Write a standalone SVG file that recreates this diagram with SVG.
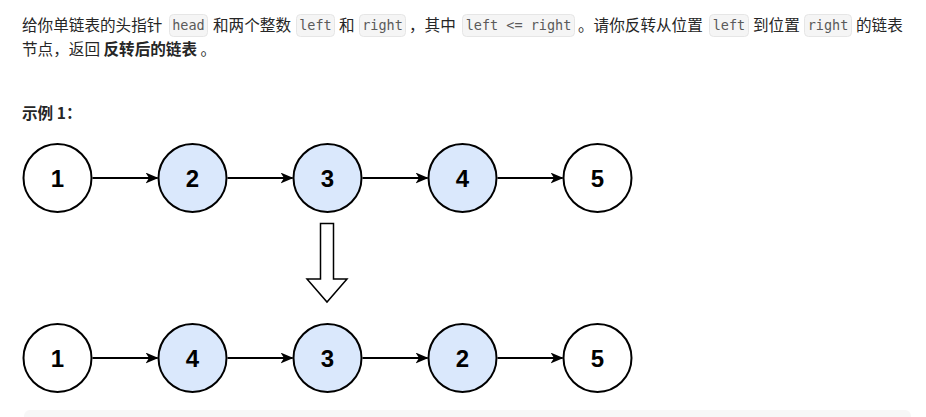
<svg xmlns="http://www.w3.org/2000/svg" width="926" height="417" viewBox="0 0 926 417">
<defs>
<style>
.t{font-family:"Noto Sans CJK SC","Noto Sans",sans-serif;font-size:15.6px;fill:#262626}
.b{font-weight:bold}
.code{font-family:"DejaVu Sans Mono","Liberation Mono",monospace;font-size:13.5px;fill:#5a5a5a;text-anchor:middle}
.cb{fill:#f5f5f5;stroke:#e6e6e6;stroke-width:1}
.n{stroke:#000;stroke-width:2}
.w{fill:#fff}
.h{fill:#dae8fc}
.lbl{font-family:"Liberation Sans",Arial,sans-serif;font-weight:bold;font-size:24px;fill:#000;text-anchor:middle}
.e{stroke:#000;stroke-width:2;fill:none}
</style>
<marker id="ah" markerWidth="13" markerHeight="11" refX="12" refY="5.5" orient="auto" markerUnits="userSpaceOnUse">
<path d="M0,0 L13,5.5 L0,11 L3.5,5.5 Z" fill="#000"/>
</marker>
</defs>
<rect width="926" height="417" fill="#fff"/>
<!-- text line 1 -->
<rect class="cb" x="169.5" y="14.5" width="38" height="22" rx="4"/>
<rect class="cb" x="296.5" y="14.5" width="38" height="22" rx="4"/>
<rect class="cb" x="359.5" y="14.5" width="46" height="22" rx="4"/>
<rect class="cb" x="462.5" y="14.5" width="112" height="22" rx="4"/>
<rect class="cb" x="709.5" y="14.5" width="39" height="22" rx="4"/>
<rect class="cb" x="804.5" y="14.5" width="47" height="22" rx="4"/>
<text class="t" x="22" y="31">给你单链表的头指针</text>
<text class="code" x="188.5" y="30">head</text>
<text class="t" x="213" y="31">和两个整数</text>
<text class="code" x="315.5" y="30">left</text>
<text class="t" x="339" y="31">和</text>
<text class="code" x="382.5" y="30">right</text>
<text class="t" x="409" y="31">，其中</text>
<text class="code" x="518.5" y="30">left &lt;= right</text>
<text class="t" x="578" y="31">。请你反转从位置</text>
<text class="code" x="729" y="30">left</text>
<text class="t" x="753" y="31">到位置</text>
<text class="code" x="828" y="30">right</text>
<text class="t" x="856" y="31">的链表</text>
<text class="t" x="22" y="55">节点，返回 <tspan class="b">反转后的链表</tspan> 。</text>
<text class="t b" x="22" y="119">示例 1：</text>
<!-- connectors -->
<g id="connectors">
<line class="e" x1="92.5" y1="178" x2="157.5" y2="178" marker-end="url(#ah)"/>
<line class="e" x1="227.5" y1="178" x2="292.5" y2="178" marker-end="url(#ah)"/>
<line class="e" x1="362.5" y1="178" x2="427.5" y2="178" marker-end="url(#ah)"/>
<line class="e" x1="497.5" y1="178" x2="562.5" y2="178" marker-end="url(#ah)"/>
<line class="e" x1="92.5" y1="358" x2="157.5" y2="358" marker-end="url(#ah)"/>
<line class="e" x1="227.5" y1="358" x2="292.5" y2="358" marker-end="url(#ah)"/>
<line class="e" x1="362.5" y1="358" x2="427.5" y2="358" marker-end="url(#ah)"/>
<line class="e" x1="497.5" y1="358" x2="562.5" y2="358" marker-end="url(#ah)"/>
<path id="down-arrow" d="M320.5,223.5 L333.5,223.5 L333.5,279 L347,279 L327,302 L307,279 L320.5,279 Z" fill="#fff" stroke="#000" stroke-width="1.5" stroke-linejoin="miter"/>
</g>
<!-- top row -->
<g id="t1"><circle class="n w" cx="57.5" cy="178" r="34"/><text class="lbl" x="57.5" y="186.5">1</text></g>
<g id="t2"><circle class="n h" cx="192.5" cy="178" r="34"/><text class="lbl" x="192.5" y="186.5">2</text></g>
<g id="t3"><circle class="n h" cx="327.5" cy="178" r="34"/><text class="lbl" x="327.5" y="186.5">3</text></g>
<g id="t4"><circle class="n h" cx="462.5" cy="178" r="34"/><text class="lbl" x="462.5" y="186.5">4</text></g>
<g id="t5"><circle class="n w" cx="597.5" cy="178" r="34"/><text class="lbl" x="597.5" y="186.5">5</text></g>
<!-- bottom row -->
<g id="b1"><circle class="n w" cx="57.5" cy="358" r="34"/><text class="lbl" x="57.5" y="366.5">1</text></g>
<g id="b4"><circle class="n h" cx="192.5" cy="358" r="34"/><text class="lbl" x="192.5" y="366.5">4</text></g>
<g id="b3"><circle class="n h" cx="327.5" cy="358" r="34"/><text class="lbl" x="327.5" y="366.5">3</text></g>
<g id="b2"><circle class="n h" cx="462.5" cy="358" r="34"/><text class="lbl" x="462.5" y="366.5">2</text></g>
<g id="b5"><circle class="n w" cx="597.5" cy="358" r="34"/><text class="lbl" x="597.5" y="366.5">5</text></g>
<rect x="24" y="410" width="887" height="20" rx="6" fill="#f7f7f7"/>
</svg>
